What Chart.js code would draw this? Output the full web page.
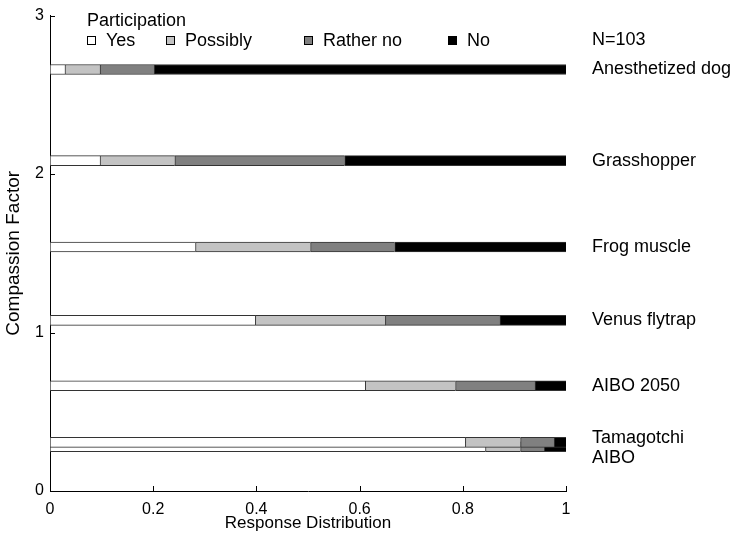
<!DOCTYPE html>
<html lang="en">
<head>
<meta charset="UTF-8">
<title>Compassion Factor</title>
<script src="https://cdn.jsdelivr.net/npm/chart.js"></script>
<style>
  html, body { margin: 0; padding: 0; background: #fff; }
  #wrap { width: 737px; height: 540px; }
</style>
</head>
<body>
<div id="wrap"><canvas id="chart"></canvas></div>
<script>
// items and their compassion factor (y position)
const items = ['Anesthetized dog', 'Grasshopper', 'Frog muscle', 'Venus flytrap', 'AIBO 2050', 'Tamagotchi', 'AIBO'];
const compassion = [2.66, 2.085, 1.54, 1.077, 0.664, 0.307, 0.279];

// response shares (sum to 1 per item)
const responses = ['Yes', 'Possibly', 'Rather no', 'No'];
const yes      = [0.029, 0.097, 0.282, 0.398, 0.611, 0.805, 0.844];
const possibly = [0.068, 0.145, 0.223, 0.252, 0.175, 0.107, 0.068];
const ratherNo = [0.105, 0.329, 0.163, 0.222, 0.154, 0.065, 0.046];
const no       = [0.798, 0.429, 0.332, 0.128, 0.060, 0.023, 0.042];

const xTicks = [0, 0.2, 0.4, 0.6, 0.8, 1];
const yTicks = [0, 1, 2, 3];
const sampleNote = 'N=103';

const colors = ['#ffffff', '#c3c3c3', '#808080', '#000000'];
const series = [yes, possibly, ratherNo, no];
const FONT = '"Liberation Sans", Arial, sans-serif';

// one dataset per item, segments as floating bars
const datasets = items.map((name, i) => {
    let start = 0;
    const data = series.map(s => {
        const seg = { x: [start, start + s[i]], y: compassion[i] };
        start += s[i];
        return seg;
    });
    return {
        label: name,
        data: data,
        backgroundColor: colors,
        borderColor: '#333',
        borderWidth: { top: 1, bottom: 1, left: 1, right: 0 },
        borderSkipped: false,
        barThickness: 10,
        grouped: false
    };
});

// inward tick marks, legend and item labels drawn on the canvas
const annotations = {
    id: 'annotations',
    afterDraw(chart) {
        const ctx = chart.ctx;
        const area = chart.chartArea;
        const xScale = chart.scales.x;
        const yScale = chart.scales.y;
        ctx.save();

        // ticks pointing into the plot
        ctx.strokeStyle = '#000';
        ctx.lineWidth = 1;
        ctx.beginPath();
        xTicks.forEach(v => {
            const px = Math.round(xScale.getPixelForValue(v)) + 0.5;
            ctx.moveTo(px, area.bottom);
            ctx.lineTo(px, area.bottom - 5);
        });
        yTicks.forEach(v => {
            const py = Math.round(yScale.getPixelForValue(v)) + 0.5;
            ctx.moveTo(area.left, py);
            ctx.lineTo(area.left + 5, py);
        });
        ctx.stroke();

        ctx.font = '18px ' + FONT;
        ctx.fillStyle = '#000';
        ctx.textAlign = 'left';
        ctx.textBaseline = 'alphabetic';

        // legend
        ctx.fillText('Participation', 87, 26);
        const cols = [87, 166, 304, 448];
        responses.forEach((r, k) => {
            ctx.fillStyle = colors[k];
            ctx.fillRect(cols[k] + 0.5, 36.5, 8, 8);
            ctx.strokeRect(cols[k] + 0.5, 36.5, 8, 8);
            ctx.fillStyle = '#000';
            ctx.fillText(r, cols[k] + 19, 46);
        });

        // item labels on the right
        ctx.textBaseline = 'middle';
        const nudge = { 'Tamagotchi': -4, 'AIBO': 11 };
        const lx = area.right + 26;
        ctx.fillText(sampleNote, lx, 40);
        items.forEach((name, i) => {
            const y = yScale.getPixelForValue(compassion[i]) + (nudge[name] || 0);
            ctx.fillText(name, lx, y);
        });
        ctx.restore();
    }
};

Chart.defaults.font.family = FONT;
Chart.defaults.font.size = 16;
Chart.defaults.color = '#000';

new Chart(document.getElementById('chart'), {
    type: 'bar',
    data: { datasets: datasets },
    options: {
        indexAxis: 'y',
        responsive: true,
        maintainAspectRatio: false,
        animation: false,
        events: [],
        layout: { padding: { top: 12, right: 171, left: 0, bottom: 0 } },
        plugins: {
            legend: { display: false },
            tooltip: { enabled: false }
        },
        scales: {
            x: {
                type: 'linear',
                position: 'bottom',
                min: 0,
                max: 1,
                stacked: false,
                afterBuildTicks: s => { s.ticks = xTicks.map(v => ({ value: v })); },
                afterFit: s => { s.height = 49; },
                ticks: { padding: 9, callback: v => String(v) },
                grid: { display: false, drawTicks: false },
                border: { display: true, color: '#000', width: 1 },
                title: { display: true, text: 'Response Distribution', font: { size: 17 }, padding: { top: 0, bottom: 6 } }
            },
            y: {
                type: 'linear',
                position: 'left',
                min: 0,
                max: 3,
                offset: false,
                afterBuildTicks: s => { s.ticks = yTicks.map(v => ({ value: v })); },
                afterFit: s => { s.width = 50; },
                ticks: { padding: 6, callback: v => String(v) },
                grid: { display: false, drawTicks: false, offset: false },
                border: { display: true, color: '#000', width: 1 },
                title: { display: true, text: 'Compassion Factor', font: { size: 19 }, padding: { top: 2, bottom: 0 } }
            }
        }
    },
    plugins: [annotations]
});
</script>
</body>
</html>
